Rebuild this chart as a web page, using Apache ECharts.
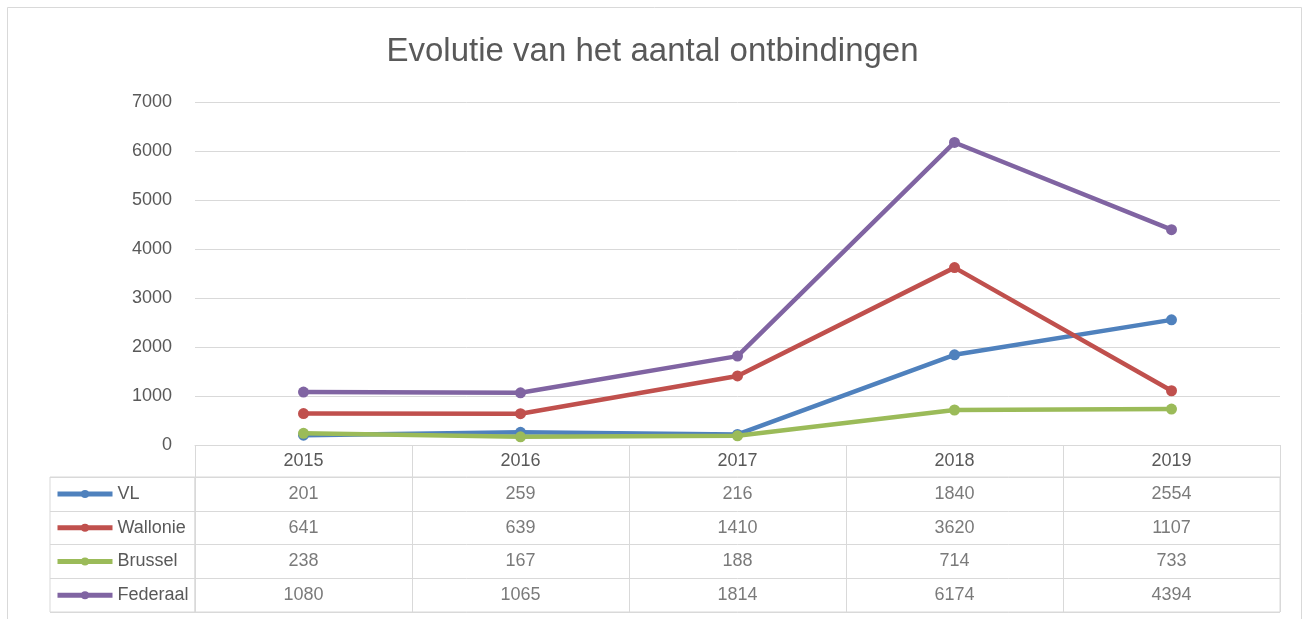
<!DOCTYPE html>
<html>
<head>
<meta charset="utf-8">
<script src="https://cdn.jsdelivr.net/npm/echarts@6/dist/echarts.min.js"></script>
<style>
html,body{margin:0;padding:0;background:#fff;}
#c{width:1305px;height:619px;}
</style>
</head>
<body>
<div id="c"></div>
<script>
const titleText = 'Evolutie van het aantal ontbindingen';
const years = ['2015', '2016', '2017', '2018', '2019'];
const seriesNames = ['VL', 'Wallonie', 'Brussel', 'Federaal'];
const vl = [201, 259, 216, 1840, 2554];
const wallonie = [641, 639, 1410, 3620, 1107];
const brussel = [238, 167, 188, 714, 733];
const federaal = [1080, 1065, 1814, 6174, 4394];
const colors = ['#4f81bd', '#c0504d', '#9bbb59', '#8064a2'];

const allValues = [vl, wallonie, brussel, federaal];
const FONT = 'Liberation Sans, Arial, sans-serif';
const TXT = '#595959';
const GRIDC = '#d9d9d9';

const tableData = [];
allValues.forEach((arr, s) => arr.forEach((v, i) => tableData.push([i, s, v])));

const lineSeries = seriesNames.map((n, s) => ({
  name: n, type: 'line', xAxisIndex: 0, yAxisIndex: 0,
  data: allValues[s], color: colors[s],
  symbol: 'circle', symbolSize: 11,
  lineStyle: { width: 4.5, color: colors[s] },
  itemStyle: { color: colors[s] },
  z: 3 + s
}));

const option = {
  animation: false,
  backgroundColor: '#ffffff',
  textStyle: { fontFamily: FONT },
  graphic: [{
    type: 'rect', silent: true, z: 0,
    shape: { x: 7.5, y: 7.5, width: 1294, height: 630 },
    style: { fill: 'none', stroke: GRIDC, lineWidth: 1 }
  }],
  title: {
    text: titleText, left: 'center', top: 30,
    textStyle: { fontFamily: FONT, fontSize: 33, fontWeight: 'normal', color: TXT }
  },
  legend: {
    data: seriesNames, orient: 'vertical', left: 55, top: 485, padding: 0,
    itemWidth: 55, itemHeight: 10, itemGap: 15.75,
    lineStyle: { width: 5 },
    textStyle: { fontFamily: FONT, fontSize: 18, color: TXT, lineHeight: 18 },
    selectedMode: false
  },
  grid: [
    { left: 195, right: 25, top: 102, height: 343, containLabel: false },
    { left: 195, right: 25, top: 477, height: 135, show: true, borderColor: GRIDC, borderWidth: 1, backgroundColor: 'transparent' },
    { left: 50, width: 145, top: 477, height: 135, show: true, borderColor: GRIDC, borderWidth: 1, backgroundColor: 'transparent' }
  ],
  xAxis: [
    { type: 'category', gridIndex: 0, data: years, boundaryGap: true,
      axisLine: { show: true, lineStyle: { color: GRIDC, width: 1 } },
      axisTick: { show: true, length: 32, interval: 0, lineStyle: { color: GRIDC } },
      axisLabel: { fontFamily: FONT, fontSize: 18, color: TXT, margin: 7, interval: 0 },
      splitLine: { show: false } },
    { type: 'category', gridIndex: 1, data: years, boundaryGap: true,
      axisLine: { show: false }, axisTick: { show: false }, axisLabel: { show: false },
      splitLine: { show: true, interval: 0, lineStyle: { color: GRIDC, width: 1 } } },
    { type: 'value', gridIndex: 2, show: false }
  ],
  yAxis: [
    { type: 'value', gridIndex: 0, min: 0, max: 7000, interval: 1000,
      axisLine: { show: false }, axisTick: { show: false },
      axisLabel: { fontFamily: FONT, fontSize: 18, color: TXT, margin: 23, formatter: v => String(v) },
      splitLine: { show: true, lineStyle: { color: GRIDC, width: 1 } } },
    { type: 'category', gridIndex: 1, data: seriesNames, inverse: true, boundaryGap: true,
      axisLine: { show: false }, axisTick: { show: false }, axisLabel: { show: false },
      splitLine: { show: true, interval: 0, lineStyle: { color: GRIDC, width: 1 } } },
    { type: 'category', gridIndex: 2, data: seriesNames, inverse: true, boundaryGap: true,
      axisLine: { show: false }, axisTick: { show: false }, axisLabel: { show: false },
      splitLine: { show: true, interval: 0, lineStyle: { color: GRIDC, width: 1 } } }
  ],
  series: lineSeries.concat([{
    name: 'tabel', type: 'scatter', xAxisIndex: 1, yAxisIndex: 1,
    data: tableData, symbolSize: 1, silent: true,
    itemStyle: { color: 'rgba(0,0,0,0)' },
    label: { show: true, position: 'inside', formatter: p => String(p.value[2]),
      fontFamily: FONT, fontSize: 18, color: TXT }
  }])
};

const chart = echarts.init(document.getElementById('c'), null, { renderer: 'canvas' });
chart.setOption(option);
</script>
</body>
</html>
